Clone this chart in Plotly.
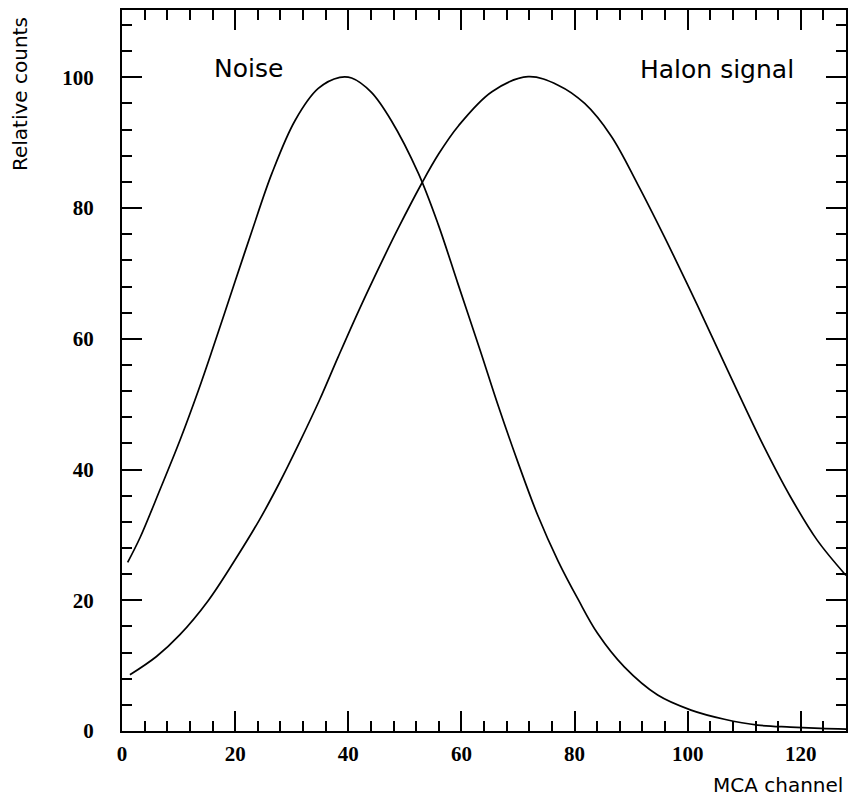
import plotly.graph_objects as go

# ---- data ----
noise_x = [1.0, 3.2, 6.8, 10.3, 13.5, 16.0, 20.0, 22.9, 26.5, 30.6, 34.7, 38.5, 40.6,
           44.1, 47.6, 52.4, 55.9, 59.4, 63.3, 66.5, 70.0, 73.5, 77.1, 80.6, 84.1,
           88.8, 94.7, 100.6, 106.5, 112.4, 118.2, 123.5, 128.0]
noise_y = [25.8, 29.6, 37.1, 44.6, 52.1, 58.4, 68.8, 76.3, 85.3, 93.4, 98.3, 100.0, 99.9,
           97.7, 93.4, 85.3, 77.5, 68.4, 58.3, 49.8, 41.1, 33.0, 26.0, 20.2, 14.9,
           9.8, 5.5, 3.2, 1.8, 0.9, 0.6, 0.4, 0.3]

halon_x = [1.4, 6.1, 10.2, 15.2, 20.0, 24.3, 27.8, 31.3, 34.9, 38.2, 41.9, 46.6, 49.0,
           53.0, 56.0, 59.5, 65.4, 71.8, 77.1, 81.8, 86.5, 91.2, 95.9, 98.2, 101.8, 104.1,
           108.8, 113.5, 118.2, 122.9, 128.0]
halon_y = [8.6, 11.4, 14.7, 19.9, 26.2, 32.3, 37.9, 44.0, 50.6, 57.2, 64.4, 73.0, 77.2,
           83.8, 88.3, 92.6, 97.8, 100.1, 98.8, 96.0, 91.0, 83.6, 75.6, 71.5, 65.0, 60.7,
           52.0, 43.5, 35.8, 29.2, 23.8]

x_tick_vals = [0, 20, 40, 60, 80, 100, 120]
y_tick_vals = [0, 20, 40, 60, 80, 100]
x_range = [0, 128]
y_range = [0, 110.3]

label_noise = "Noise"
label_halon = "Halon signal"
x_title = "MCA channel"
y_title = "Relative counts"

# ---- layout geometry (pixels) ----
W, H = 849, 801
ML, MR, MT, MB = 122, 3, 10, 70
PW, PH = W - ML - MR, H - MT - MB


def px_to_paper(px, py):
    return (px - ML) / PW, (H - MB - py) / PH


fig = go.Figure()
line_style = dict(color="black", width=1.7, shape="spline", smoothing=1.0)
fig.add_trace(go.Scatter(x=noise_x, y=noise_y, mode="lines", line=line_style,
                         name=label_noise, showlegend=False, hoverinfo="skip"))
fig.add_trace(go.Scatter(x=halon_x, y=halon_y, mode="lines", line=line_style,
                         name=label_halon, showlegend=False, hoverinfo="skip"))
# invisible trace that carries the mirrored (top/right) tick axes
fig.add_trace(go.Scatter(x=x_range, y=y_range, mode="lines", xaxis="x2", yaxis="y2",
                         line=dict(width=0, color="rgba(0,0,0,0)"), showlegend=False,
                         hoverinfo="skip"))

tickfont = dict(family="Liberation Serif", size=21, color="black", weight="bold")
minor = dict(ticks="inside", ticklen=10, tickwidth=2, tickcolor="black", dtick=4,
             showgrid=False)
axis_common = dict(
    showgrid=False, zeroline=False, showline=True, linecolor="black", linewidth=2,
    ticks="inside", ticklen=20, tickwidth=2, tickcolor="black",
    minor=minor, automargin=False, fixedrange=True,
)

fig.update_layout(
    xaxis=dict(range=x_range, tickmode="array", tickvals=x_tick_vals,
               ticklabelstandoff=3, tickfont=tickfont, **axis_common),
    yaxis=dict(range=y_range, tickmode="array", tickvals=y_tick_vals,
               ticklabelstandoff=22, tickfont=tickfont, **axis_common),
    xaxis2=dict(range=x_range, tickmode="array", tickvals=x_tick_vals, side="top",
                overlaying="x", showticklabels=False, **axis_common),
    yaxis2=dict(range=y_range, tickmode="array", tickvals=y_tick_vals, side="right",
                overlaying="y", showticklabels=False, **axis_common),
)

sans = "DejaVu Sans"
nx, ny = px_to_paper(248, 69)
hx, hy = px_to_paper(717, 70)
tx, ty = px_to_paper(845, 785)
vx, vy = px_to_paper(20, 94)
fig.update_layout(
    width=W, height=H,
    margin=dict(l=ML, r=MR, t=MT, b=MB),
    paper_bgcolor="white", plot_bgcolor="white",
    annotations=[
        dict(text=label_noise, x=nx, y=ny, xref="paper", yref="paper", showarrow=False,
             font=dict(family=sans, size=25, color="black"), xanchor="center", yanchor="middle"),
        dict(text=label_halon, x=hx, y=hy, xref="paper", yref="paper", showarrow=False,
             font=dict(family=sans, size=25, color="black"), xanchor="center", yanchor="middle"),
        dict(text=x_title, x=tx, y=ty, xref="paper", yref="paper", showarrow=False,
             font=dict(family=sans, size=20, color="black"), xanchor="right", yanchor="middle"),
        dict(text=y_title, x=vx, y=vy, xref="paper", yref="paper", showarrow=False,
             textangle=-90, font=dict(family=sans, size=20, color="black"),
             xanchor="center", yanchor="middle"),
    ],
)

fig.write_html(
    "out.html",
    config={"displayModeBar": False, "staticPlot": True},
    post_script="document.body.style.margin='0px'; document.body.style.overflow='hidden';",
)
